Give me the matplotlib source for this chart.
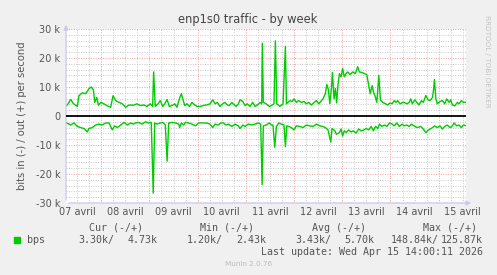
# Munin "enp1s0 traffic - by week" recreation
import matplotlib
matplotlib.use("Agg")
import matplotlib.pyplot as plt

# time axis: hours from 07 avril 00:00
# out (+) traffic, kbit/s
out_hours = [6.8, 7.5, 8.8, 10.1, 11.0, 12.1, 12.9, 14.6, 16.3, 17.9, 19.1, 20.1, 20.8, 21.8,
             22.6, 23.8, 25.4, 27.0, 28.7, 29.9, 31.2, 32.9, 34.5, 36.2, 37.8, 40.0,
             41.8, 43.5, 45.2, 46.8, 48.4, 49.6, 50.1, 50.9, 52.3, 53.4, 54.6, 55.6, 56.8,
             57.9, 59.3, 60.6, 61.7, 62.9, 63.9, 64.6, 65.6, 66.7, 67.9, 69.2, 70.6, 71.7,
             73.3, 74.8, 76.5, 78.2, 79.5, 80.7, 81.8, 83.1, 84.5, 85.6, 86.8, 87.8, 89.0,
             90.1, 91.1, 92.3, 93.1, 94.5, 95.6, 96.7, 98.1, 99.4, 100.6, 101.7, 103.1,
             103.9, 104.2, 104.7, 106.1, 107.7, 108.7, 110.0, 110.7, 111.4, 112.9, 114.5,
             115.7, 116.2, 117.0, 117.9, 119.0, 120.0, 121.1, 122.3, 123.6, 125.0, 126.1,
             127.3, 128.6, 130.0, 131.1, 132.3, 133.3, 134.4, 135.6, 136.3, 137.1, 137.8,
             138.6, 139.1, 139.9, 140.6, 141.2, 141.9, 142.6, 143.4, 144.2, 145.0, 145.9,
             146.7, 147.9, 149.2, 150.5, 151.7, 152.5, 153.9, 155.0, 156.2, 157.2, 157.9,
             158.9, 159.5, 160.5, 161.2, 162.2, 163.0, 164.2, 165.5, 166.6, 167.8, 168.8,
             169.9, 170.8, 171.6, 172.8, 174.1, 174.8, 176.1, 177.3, 178.1, 178.9, 180.1,
             181.1, 182.2, 183.4, 184.4, 185.6, 186.7, 187.7, 188.9, 189.4, 189.9, 190.6,
             191.3, 192.7, 193.8, 195.0, 196.0, 197.2, 198.0, 198.8, 200.0, 201.3, 202.1,
             203.3, 204.3, 205.5]
out_kbps = [3.6, 4.2, 5.7, 4.3, 3.8, 3.3, 7.0, 8.0, 7.7, 9.4, 10.0, 9.0, 4.7, 6.4,
            3.7, 4.7, 4.2, 3.5, 3.0, 7.0, 5.3, 4.7, 4.2, 3.0, 3.8, 3.7,
            4.2, 3.6, 3.8, 3.3, 4.2, 3.3, 15.2, 3.3, 4.2, 5.3, 3.3, 4.2, 5.7,
            3.3, 3.6, 4.2, 3.0, 5.9, 7.7, 5.9, 3.6, 4.2, 3.3, 4.7, 3.8, 3.3,
            3.3, 3.6, 3.8, 4.2, 5.6, 4.2, 4.7, 3.3, 4.2, 4.7, 3.8, 3.6, 4.7,
            3.9, 3.3, 4.2, 5.6, 5.0, 3.6, 4.2, 3.3, 4.7, 3.3, 3.8, 4.7,
            4.2, 25.1, 4.7, 4.2, 3.3, 3.6, 4.2, 25.9, 4.2, 3.3, 4.2,
            24.0, 4.2, 4.7, 5.3, 5.0, 5.9, 4.7, 5.3, 4.7, 5.0, 4.2,
            4.7, 3.8, 4.7, 5.3, 4.2, 5.0, 5.9, 7.7, 10.9, 9.0, 4.3,
            9.5, 15.0, 5.9, 9.5, 4.5, 11.0, 14.6, 13.5, 16.4, 13.5, 14.6,
            15.2, 14.3, 15.2, 14.6, 17.0, 15.2, 15.0, 14.6, 14.3, 10.5, 7.7,
            10.5, 8.3, 6.5, 4.7, 14.0, 5.5, 4.7, 4.2, 3.8, 4.5, 4.2,
            5.3, 4.7, 5.3, 4.2, 4.7, 4.7, 4.2, 4.7, 5.9, 4.2, 5.6,
            4.7, 3.8, 5.3, 4.7, 7.1, 5.6, 5.3, 6.4, 8.8, 12.6, 5.9,
            4.2, 5.0, 5.3, 4.2, 5.9, 4.7, 5.6, 3.8, 3.5, 4.7, 4.2,
            5.3, 4.7, 4.73]

# in (-) traffic, kbit/s (drawn below zero)
in_hours = [6.8, 8.8, 10.5, 12.1, 13.8, 15.4, 17.1, 17.9, 19.6, 21.3, 22.9, 24.5, 26.2,
            27.9, 29.5, 30.7, 32.0, 33.7, 35.4, 37.0, 38.7, 40.0,
            41.0, 42.7, 44.3, 46.0, 47.6, 48.9, 49.9, 50.6, 51.8, 53.4, 54.6, 55.9, 56.8,
            57.6, 59.3, 60.9, 62.6, 63.1, 63.9, 65.1, 65.9, 67.6, 69.2, 70.9, 72.5,
            74.8, 76.5, 78.2, 79.5, 80.7, 82.3, 83.5, 84.8, 86.1, 87.3, 89.0, 90.6, 92.3,
            93.1, 94.5, 95.6, 97.2, 98.9, 100.6, 102.2, 103.4, 104.1, 104.7, 106.1, 107.7,
            108.7, 109.5, 110.4, 111.2, 112.4, 113.7, 115.0, 115.7, 116.4, 117.4, 118.7,
            120.0, 121.1, 122.8, 124.5, 126.1, 127.8, 129.5, 131.1, 132.8, 134.4, 135.6,
            136.9, 138.3, 138.9, 140.3, 141.1, 142.6, 143.4, 144.2, 145.0, 145.9, 147.2,
            148.4, 149.5, 150.9, 152.2, 153.4, 154.5, 155.9, 157.2, 158.4, 159.5, 160.5,
            161.7, 162.5, 163.8, 165.0, 166.2, 167.5, 168.8, 169.9, 171.1, 172.4, 173.8,
            174.8, 176.1, 177.3, 178.4, 179.7, 181.4, 183.1, 184.4, 185.6, 186.4, 187.7,
            188.9, 190.0, 191.3, 192.7, 193.8, 195.0, 196.3, 197.7, 198.8, 199.7, 201.0,
            202.1, 203.3, 204.3, 205.5]
in_kbps = [2.4, 3.1, 2.4, 3.6, 4.0, 4.3, 5.5, 4.3, 4.0, 3.1, 2.8, 3.1, 2.4,
           2.4, 4.8, 3.4, 4.0, 3.1, 2.2, 3.1, 2.4, 2.8,
           2.4, 2.2, 2.8, 2.0, 2.4, 2.2, 26.6, 2.4, 2.8, 2.4, 2.2, 3.1, 15.6,
           2.4, 2.2, 2.4, 2.8, 4.0, 2.4, 3.1, 2.2, 2.4, 2.8, 3.4, 2.4,
           2.4, 2.4, 2.8, 4.0, 2.8, 3.1, 2.4, 2.4, 3.1, 2.8, 3.6, 2.8, 3.4,
           4.3, 3.1, 3.6, 2.8, 3.1, 2.8, 2.4, 2.8, 23.7, 3.4, 3.1, 2.4,
           3.1, 3.1, 10.8, 3.6, 2.4, 2.8, 3.1, 10.6, 3.4, 3.6, 4.0,
           4.8, 3.4, 3.6, 4.0, 3.1, 3.4, 3.6, 2.8, 3.4, 3.6, 4.0,
           4.8, 9.0, 4.3, 5.1, 6.3, 5.7, 4.5, 6.9, 5.1, 5.7, 4.8,
           5.5, 5.1, 5.9, 4.5, 5.1, 4.9, 4.3, 4.8, 3.6, 5.1, 3.6,
           4.3, 2.8, 3.6, 3.1, 3.6, 2.4, 2.8, 3.4, 2.4, 3.6, 2.8,
           3.4, 3.1, 3.6, 2.8, 3.4, 4.0, 3.6, 4.5, 5.7, 5.1, 4.5,
           4.0, 3.4, 4.0, 3.4, 4.5, 3.6, 3.1, 4.0, 3.4, 2.4, 3.4,
           3.1, 4.0, 3.1, 3.30]

day_labels = ["07 avril", "08 avril", "09 avril", "10 avril", "11 avril",
              "12 avril", "13 avril", "14 avril", "15 avril"]
y_ticks = [-30, -20, -10, 0, 10, 20, 30]
y_tick_labels = ["-30 k", "-20 k", "-10 k", "0", "10 k", "20 k", "30 k"]

# legend numbers (Cur, Min, Avg, Max), in / out
legend_values = [("3.30k/", "4.73k"), ("1.20k/", "2.43k"),
                 ("3.43k/", "5.70k"), ("148.84k/", "125.87k")]
legend_headers = ["Cur (-/+)", "Min (-/+)", "Avg (-/+)", "Max (-/+)"]

W, H = 497, 275
fig = plt.figure(figsize=(W / 100, H / 100), dpi=100, facecolor="#F0F0F0")
ax = fig.add_axes([66 / W, 72 / H, 400 / W, 174 / H], facecolor="white")

x_min, x_max = 6.47, 205.6
ax.set_xlim(x_min, x_max)
ax.set_ylim(-30, 30)

# grid: minor every 6 h / 2 k, major every day / 10 k
minor_c = "#C8C8C8"
major_c = "#F4A0A0"
dots = (0, (1, 1.5))
h = 6
while h < x_max:
    col = major_c if h % 24 == 0 else minor_c
    ax.axvline(h, color=col, lw=0.7, ls=dots, zorder=1)
    h += 6
for v in range(-30, 31, 2):
    if v == 0:
        continue
    col = major_c if v % 10 == 0 else minor_c
    ax.axhline(v, color=col, lw=0.7, ls=dots, zorder=1)

# data
green = "#00CC00"
ax.plot(out_hours, out_kbps, color=green, lw=1.0, zorder=3)
ax.plot(in_hours, [-v for v in in_kbps], color=green, lw=1.0, zorder=3)
ax.axhline(0, color="black", lw=1.3, zorder=4)

# axes look
for s in ["top", "right", "left", "bottom"]:
    ax.spines[s].set_visible(False)
axis_c = "#C8C8F0"
ax.annotate("", xy=(1.02, 0), xytext=(0, 0), xycoords="axes fraction",
            arrowprops=dict(arrowstyle="-|>", color=axis_c, lw=0.9,
                            mutation_scale=7), annotation_clip=False)
ax.annotate("", xy=(0, 1.04), xytext=(0, 0), xycoords="axes fraction",
            arrowprops=dict(arrowstyle="-|>", color=axis_c, lw=0.9,
                            mutation_scale=7), annotation_clip=False)

txt_c = "#555555"
ax.set_yticks(y_ticks)
ax.set_yticklabels(y_tick_labels)
ax.set_xticks([12 + 24 * i for i in range(len(day_labels))])
ax.set_xticklabels(day_labels)
ax.tick_params(axis="both", length=0, labelsize=7, labelcolor=txt_c, pad=4)
ax.tick_params(axis="x", pad=3)

ax.set_ylabel("bits in (-) / out (+) per second", fontsize=7.2, color=txt_c, labelpad=6)
fig.text(248 / W, 1 - 19 / H, "enp1s0 traffic - by week", ha="center", va="center",
         fontsize=8.3, color="#444444")
fig.text(487 / W, 1 - 15 / H, "RRDTOOL / TOBI OETIKER", rotation=270, ha="center",
         va="top", fontsize=5.2, color="#C4C4C4")

# legend block
mono = "DejaVu Sans Mono"
fs = 7.2
header_x = [89.3, 200, 311.7, 422.7]
for x, t in zip(header_x, legend_headers):
    fig.text(x / W, 1 - 228 / H, t, ha="left", va="center", family=mono, fontsize=fs, color=txt_c)
fig.patches.append(plt.Rectangle((14 / W, 1 - 243 / H), 6 / W, 6 / H, color=green,
                                 transform=fig.transFigure, figure=fig))
fig.text(26.7 / W, 1 - 240 / H, "bps", ha="left", va="center", family=mono, fontsize=fs, color=txt_c)
starts = [78.3, 186.7, 295, 391]
ends = [157.7, 266, 374.3, 482.7]
for (a, b), x0, x1 in zip(legend_values, starts, ends):
    fig.text(x0 / W, 1 - 240 / H, a, ha="left", va="center", family=mono, fontsize=fs, color=txt_c)
    fig.text(x1 / W, 1 - 240 / H, b, ha="right", va="center", family=mono, fontsize=fs, color=txt_c)
fig.text(483 / W, 1 - 252 / H, "Last update: Wed Apr 15 14:00:11 2026", ha="right",
         va="center", family=mono, fontsize=fs, color=txt_c)
fig.text(248.3 / W, 1 - 264 / H, "Munin 2.0.76", ha="center", va="center",
         fontsize=5.2, color="#BBBBBB")

fig.savefig("out.png", dpi=100, facecolor=fig.get_facecolor())
